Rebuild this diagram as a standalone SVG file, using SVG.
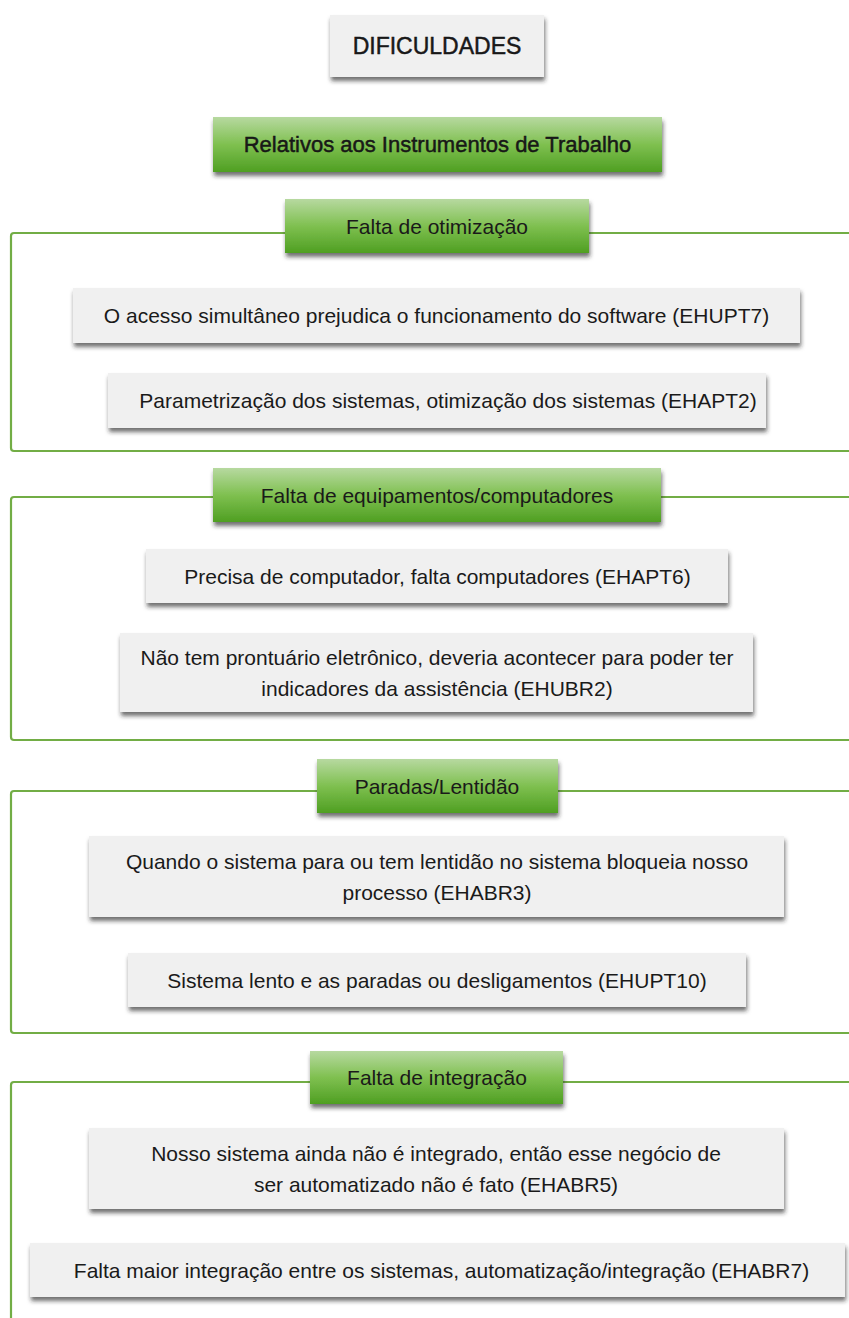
<svg xmlns="http://www.w3.org/2000/svg" width="849" height="1318" viewBox="0 0 849 1318">
<defs>
<linearGradient id="gg" x1="0" y1="0" x2="0" y2="1">
<stop offset="0" stop-color="#b7d9a0"/>
<stop offset="0.5" stop-color="#7fc050"/>
<stop offset="1" stop-color="#4f9f22"/>
</linearGradient>
<filter id="sh" x="-5%" y="-20%" width="110%" height="150%">
<feDropShadow dx="1" dy="4" stdDeviation="2" flood-color="#222" flood-opacity="0.65"/>
</filter>
</defs>
<style>
.box{fill:#f0f0f0;filter:url(#sh)}
.hdr{fill:url(#gg);filter:url(#sh)}
.t{font-family:"Liberation Sans",Arial,sans-serif;font-size:21px;fill:#1a1a1a;text-anchor:middle}
.big{font-size:22px;stroke:#111;stroke-width:0.45}
.line{fill:none;stroke:#72ad45;stroke-width:2.2;stroke-linejoin:round}
</style>
<rect width="849" height="1318" fill="#ffffff"/>
<g id="connectors">
<path class="line" d="M852 233 H14 Q11 233 11 236 V448 Q11 451 14 451 H852"/>
<path class="line" d="M852 497 H14 Q11 497 11 500 V737 Q11 740 14 740 H852"/>
<path class="line" d="M852 791 H14 Q11 791 11 794 V1030 Q11 1033 14 1033 H852"/>
<path class="line" d="M852 1082 H14 Q11 1082 11 1085 V1320"/>
</g>
<g id="n-dificuldades">
<rect class="box" x="330" y="15" width="214" height="62"/>
<text class="t big" x="437" y="54" style="font-size:23px">DIFICULDADES</text>
</g>
<g id="n-relativos">
<rect class="hdr" x="213" y="117" width="449" height="55"/>
<text class="t big" x="437.5" y="152">Relativos aos Instrumentos de Trabalho</text>
</g>
<g id="n-otimizacao">
<rect class="hdr" x="285" y="199" width="304" height="54"/>
<text class="t" x="437" y="233.5">Falta de otimização</text>
</g>
<g id="n-ehupt7">
<rect class="box" x="73" y="288" width="727" height="55"/>
<text class="t" x="436.5" y="323">O acesso simultâneo prejudica o funcionamento do software (EHUPT7)</text>
</g>
<g id="n-ehapt2">
<rect class="box" x="108" y="373" width="658" height="55"/>
<text class="t" x="448" y="408">Parametrização dos sistemas, otimização dos sistemas (EHAPT2)</text>
</g>
<g id="n-equipamentos">
<rect class="hdr" x="213" y="468" width="448" height="54"/>
<text class="t" x="437" y="502.5">Falta de equipamentos/computadores</text>
</g>
<g id="n-ehapt6">
<rect class="box" x="146" y="549" width="582" height="54"/>
<text class="t" x="437.5" y="583.5">Precisa de computador, falta computadores (EHAPT6)</text>
</g>
<g id="n-ehubr2">
<rect class="box" x="120" y="633" width="633" height="79"/>
<text class="t" x="437" y="665">Não tem prontuário eletrônico, deveria acontecer para poder ter</text>
<text class="t" x="437" y="696">indicadores da assistência (EHUBR2)</text>
</g>
<g id="n-paradas">
<rect class="hdr" x="317" y="759" width="241" height="54"/>
<text class="t" x="437" y="793.5">Paradas/Lentidão</text>
</g>
<g id="n-ehabr3">
<rect class="box" x="89" y="836" width="695" height="81"/>
<text class="t" x="437" y="869">Quando o sistema para ou tem lentidão no sistema bloqueia nosso</text>
<text class="t" x="437" y="900">processo (EHABR3)</text>
</g>
<g id="n-ehupt10">
<rect class="box" x="128" y="953" width="618" height="54"/>
<text class="t" x="437" y="987.5">Sistema lento e as paradas ou desligamentos (EHUPT10)</text>
</g>
<g id="n-integracao">
<rect class="hdr" x="310" y="1051" width="253" height="53"/>
<text class="t" x="437" y="1085">Falta de integração</text>
</g>
<g id="n-ehabr5">
<rect class="box" x="89" y="1128" width="695" height="81"/>
<text class="t" x="436" y="1161">Nosso sistema ainda não é integrado, então esse negócio de</text>
<text class="t" x="436" y="1192">ser automatizado não é fato (EHABR5)</text>
</g>
<g id="n-ehabr7">
<rect class="box" x="30" y="1243" width="815" height="54"/>
<text class="t" x="441.5" y="1277.5">Falta maior integração entre os sistemas, automatização/integração (EHABR7)</text>
</g>
</svg>
